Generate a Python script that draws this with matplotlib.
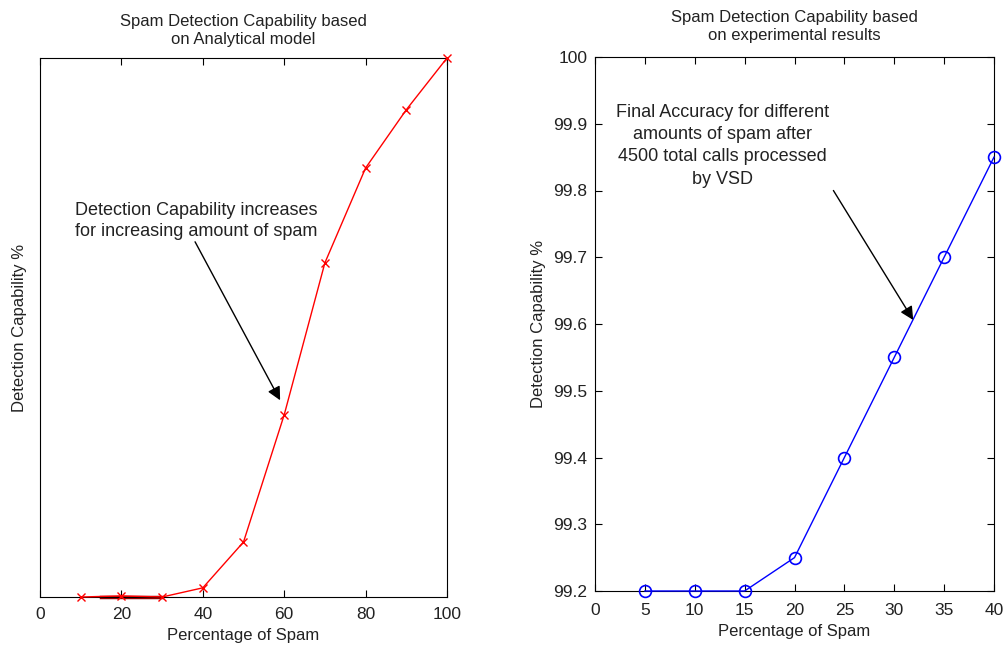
import numpy as np
import matplotlib.pyplot as plt

plt.rcParams['font.family'] = ['Liberation Sans', 'DejaVu Sans']

# analytical model (left)
spam_pct_model = [10, 20, 30, 40, 50, 60, 70, 80, 90, 100]
capability_model = [0, 0.2, 0, 1.7, 10.2, 33.8, 62, 79.6, 90.4, 100]
baseline_x = [15, 30]
baseline_y = [0, 0]

# experimental results (right)
spam_pct_exp = [5, 10, 15, 20, 25, 30, 35, 40]
accuracy_exp = [99.2, 99.2, 99.2, 99.25, 99.4, 99.55, 99.7, 99.85]

fig = plt.figure(figsize=(10.04, 6.47), dpi=100)
W, H = 1004, 647
txt = '#222222'

ax1 = fig.add_axes([40 / W, 1 - 597 / H, 407 / W, 539 / H])
ax1.plot(baseline_x, baseline_y, color='#990000', lw=2.5, clip_on=False, zorder=2)
ax1.plot(spam_pct_model, capability_model, color='red', lw=1, marker='x',
         markersize=6, markeredgewidth=1, clip_on=False, zorder=3)
ax1.set_xlim(0, 100)
ax1.set_ylim(0, 100)
ax1.set_xticks([0, 20, 40, 60, 80, 100])
ax1.set_yticks([])
ax1.tick_params(axis='x', direction='in', top=True, length=5, labelsize=12.5, pad=7,
                labelcolor=txt)
ax1.set_xlabel('Percentage of Spam', fontsize=12, labelpad=4.5, color=txt)
ax1.set_ylabel('Detection Capability %', fontsize=12, labelpad=9, color=txt)
ax1.set_title('Spam Detection Capability based\non Analytical model', fontsize=12,
              pad=10, linespacing=1.25, color=txt)
ax1.text(8.6, 69.8, 'Detection Capability increases\nfor increasing amount of spam',
         fontsize=13, ha='left', va='center', linespacing=1.35, color=txt)
ax1.annotate('', xy=(59.0, 36.5), xytext=(38.1, 65.9),
             arrowprops=dict(arrowstyle='-|>', color='black', lw=1,
                             mutation_scale=20, shrinkA=0, shrinkB=0))

ax2 = fig.add_axes([595 / W, 1 - 591 / H, 399 / W, 534 / H])
ax2.plot(spam_pct_exp, accuracy_exp, color='blue', lw=1, marker='o',
         markersize=8.5, markerfacecolor='none', markeredgewidth=1.2,
         clip_on=False, zorder=3)
ax2.set_xlim(0, 40)
ax2.set_ylim(99.2, 100)
ax2.set_xticks(np.arange(0, 41, 5))
ax2.set_yticks(np.round(np.arange(99.2, 100.01, 0.1), 1))
ax2.set_yticklabels(['99.2', '99.3', '99.4', '99.5', '99.6', '99.7', '99.8', '99.9', '100'])
ax2.tick_params(direction='in', top=True, right=True, length=5, labelsize=12.5,
                labelcolor=txt)
ax2.tick_params(axis='x', pad=8.5)
ax2.tick_params(axis='y', pad=5.5)
ax2.set_xlabel('Percentage of Spam', fontsize=12, labelpad=4.5, color=txt)
ax2.set_ylabel('Detection Capability %', fontsize=12, labelpad=5, color=txt)
ax2.set_title('Spam Detection Capability based\non experimental results', fontsize=12,
              pad=12, linespacing=1.25, color=txt)
ax2.text(12.8, 99.867, 'Final Accuracy for different\namounts of spam after\n'
         '4500 total calls processed\nby VSD',
         fontsize=13, ha='center', va='center', linespacing=1.4, color=txt)
ax2.annotate('', xy=(31.9, 99.606), xytext=(23.9, 99.80),
             arrowprops=dict(arrowstyle='-|>', color='black', lw=1,
                             mutation_scale=20, shrinkA=0, shrinkB=0))

fig.savefig('out.png', dpi=100)
